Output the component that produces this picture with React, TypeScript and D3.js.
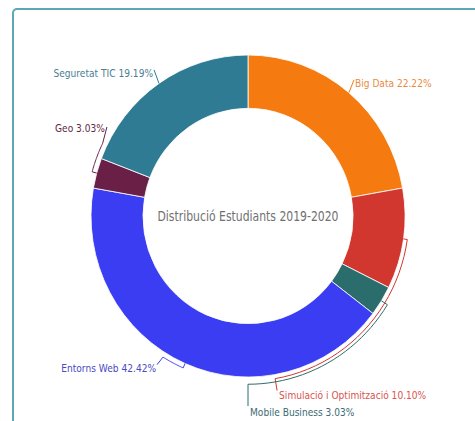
import React from "react";
import * as d3 from "d3";

// student counts per track, 2019-2020
const categories = [
  "Big Data",
  "Simulació i Optimització",
  "Mobile Business",
  "Entorns Web",
  "Geo",
  "Seguretat TIC",
];
const students = [22, 10, 3, 42, 3, 19];
const sliceColors = ["#f57b10", "#d2372f", "#2b6d6c", "#3a3df2", "#6a1f46", "#2f7b93"];
const labelColors = ["#e98a40", "#d9534f", "#3d6a73", "#4a4ac2", "#5c2a42", "#4b8091"];
const title = "Distribució Estudiants 2019-2020";

// connector layout per label: angles in degrees (0 = top, clockwise), radii relative to outer radius
const labelLayout = [
  { arcK: null, arcTo: null, endA: 38.6, endK: 1.082, anchor: "start", dx: 1, dy: 7 },
  { arcK: 1.025, arcTo: 170.3, endA: 170.3, endK: 1.1, anchor: "start", dx: 2, dy: 8 },
  { arcK: 1.045, arcTo: 180, endA: 180, endK: 1.18, anchor: "start", dx: 2, dy: 10 },
  { arcK: 1.03, arcTo: 211.7, endA: 212.1, endK: 1.09, anchor: "end", dx: -1, dy: 7 },
  { arcK: 1.03, arcTo: 296, endA: 301.6, endK: 1.055, anchor: "end", dx: -2, dy: 5 },
  { arcK: null, arcTo: null, endA: 326.6, endK: 1.087, anchor: "end", dx: -1, dy: 7 },
];

const W = 475;
const H = 421;
const cx = 248;
const cy = 216;
const rx = 157;
const ry = 161;
const inner = 105;
const font = "'DejaVu Sans', sans-serif";
// the original uses a narrow face; squeeze DejaVu horizontally
const labelSqueeze = 0.826;
const titleSqueeze = 0.775;

const rad = (deg: number) => (deg * Math.PI) / 180;
const pt = (deg: number, k: number): [number, number] => [
  cx + rx * k * Math.sin(rad(deg)),
  cy - ry * k * Math.cos(rad(deg)),
];

export default function App() {
  const total = d3.sum(students);
  const pie = d3.pie<number>().sort(null).value((d) => d)(students);
  const arc = d3.arc<d3.PieArcDatum<number>>().innerRadius(inner).outerRadius(rx);
  const line = d3.line();

  const connectors = pie.map((p, i) => {
    const l = labelLayout[i];
    const mid = ((p.startAngle + p.endAngle) / 2) * (180 / Math.PI);
    const pts: [number, number][] = [pt(mid, 1.0)];
    if (l.arcK != null && l.arcTo != null) {
      const steps = 24;
      for (let s = 0; s <= steps; s++) {
        pts.push(pt(mid + ((l.arcTo - mid) * s) / steps, l.arcK));
      }
    }
    const end = pt(l.endA, l.endK);
    pts.push(end);
    return { d: line(pts) || "", end, l };
  });

  return (
    <svg
      width={W}
      height={H}
      style={{ position: "absolute", left: 0, top: 0, background: "#fff" }}
    >
      <rect x={13} y={9} width={500} height={440} rx={4} fill="#fff" stroke="#5aa8b2" strokeWidth={2} />
      <g transform={`translate(${cx},${cy}) scale(1,${ry / rx})`}>
        {pie.map((p, i) => (
          <path key={categories[i]} d={arc(p) || ""} fill={sliceColors[i]} stroke="#fff" strokeWidth={0.8} />
        ))}
      </g>
      {connectors.map((c, i) => (
        <path key={"c" + i} d={c.d} fill="none" stroke={sliceColors[i]} strokeWidth={1} />
      ))}
      {connectors.map((c, i) => (
        <g
          key={"t" + i}
          transform={`translate(${c.end[0] + c.l.dx},${c.end[1] + c.l.dy}) scale(${labelSqueeze},1)`}
        >
          <text textAnchor={c.l.anchor} fontFamily={font} fontSize={11} fill={labelColors[i]}>
            {`${categories[i]} ${((students[i] / total) * 100).toFixed(2)}%`}
          </text>
        </g>
      ))}
      <g transform={`translate(${cx},${cy + 5}) scale(${titleSqueeze},1)`}>
        <text textAnchor="middle" fontFamily={font} fontSize={14} fill="#707070">
          {title}
        </text>
      </g>
    </svg>
  );
}
